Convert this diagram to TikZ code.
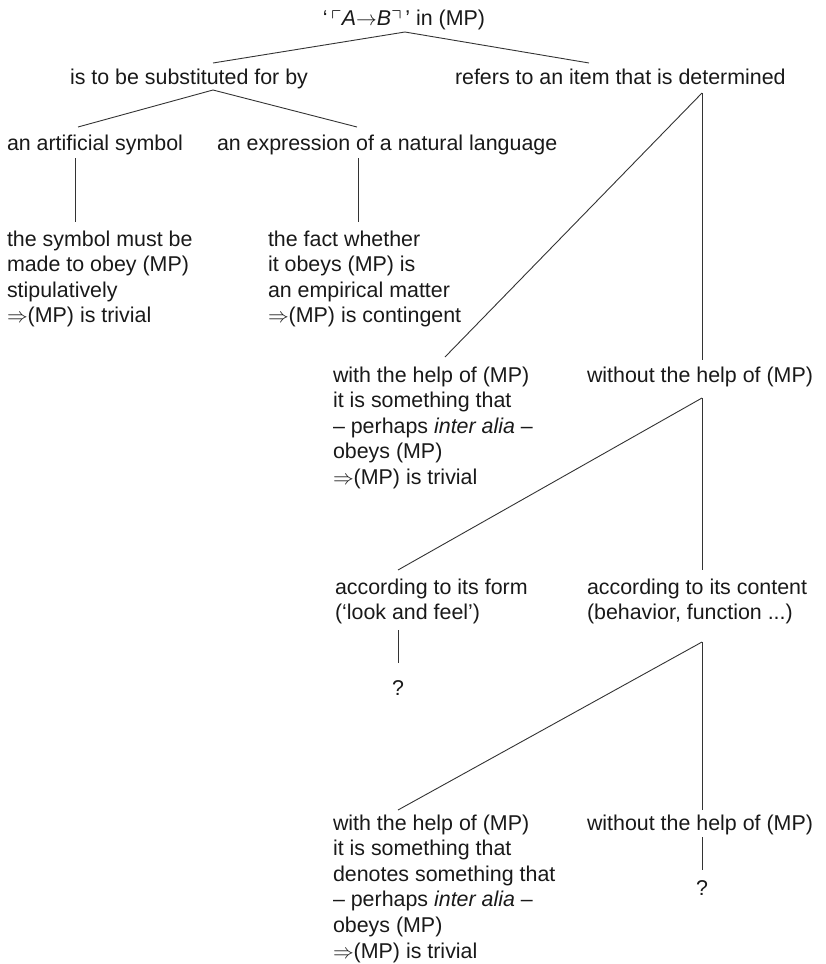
\documentclass[tikz,border=0pt]{standalone}
\usepackage{amsmath, amssymb}
\usepackage{fontspec}
\setmainfont{Liberation Sans}
\usepackage{tikz}
\usetikzlibrary{positioning,calc}
\tikzset{
  branch/.style={draw=black!80, line width=0.9pt},
  entry/.style={inner sep=0pt, outer sep=0pt, align=left, anchor=base west, text=black!90, font=\fontsize{21.4}{25.6}\selectfont},
  qmark/.style={entry, anchor=base}
}

\begin{document}
\begin{tikzpicture}[x=1pt, y=-1pt]
      \useasboundingbox (0,0) rectangle (825,964);
      \node[qmark] (root) at (404,25) {‘\,$\ulcorner$\textit{A}$\rightarrow$\textit{B}$\urcorner$\,’ in (MP)};
      \node[entry] (subst) at (70,84) {is to be substituted for by};
      \node[entry] (refers) at (455,84) {refers to an item that is determined};
      \node[entry] (artif) at (7,150) {an artificial symbol};
      \node[entry] (natlang) at (217,150) {an expression of a natural language};
      \node[entry] (stip) at (7,322.8) {the symbol must be\\made to obey (MP)\\stipulatively\\$\Rightarrow$(MP) is trivial};
      \node[entry] (empir) at (268,322.8) {the fact whether\\it obeys (MP) is\\an empirical matter\\$\Rightarrow$(MP) is contingent};
      \node[entry] (help1) at (333,484.4) {with the help of (MP)\\it is something that\\-- perhaps \textit{inter alia} --\\obeys (MP)\\$\Rightarrow$(MP) is trivial};
      \node[entry] (without1) at (587,382) {without the help of (MP)};
      \node[entry] (form) at (335,619.6) {according to its form\\(‘look and feel’)};
      \node[entry] (content) at (587,619.6) {according to its content\\(behavior, function ...)};
      \node[qmark] (q1) at (398,695) {?};
      \node[entry] (help2) at (333,958) {with the help of (MP)\\it is something that\\denotes something that\\-- perhaps \textit{inter alia} --\\obeys (MP)\\$\Rightarrow$(MP) is trivial};
      \node[entry] (without2) at (587,830) {without the help of (MP)};
      \node[qmark] (q2) at (702,895) {?};
      \draw[branch] ([shift={(1,7)}]root.base) -- ([shift={(143,-21)}]subst.base west);
      \draw[branch] ([shift={(1,7)}]root.base) -- ([shift={(134,-21)}]refers.base west);
      \draw[branch] ([shift={(143,6)}]subst.base west) -- ([shift={(71,-23)}]artif.base west);
      \draw[branch] ([shift={(143,6)}]subst.base west) -- ([shift={(140,-23)}]natlang.base west);
      \draw[branch] ([shift={(68,8)}]artif.base west) -- ([shift={(68,-100.8)}]stip.base west);
      \draw[branch] ([shift={(141,8)}]natlang.base west) -- ([shift={(90,-100.8)}]empir.base west);
      \draw[branch] ([shift={(247,9)}]refers.base west) -- ([shift={(112,-127.4)}]help1.base west);
      \draw[branch] ([shift={(247,9)}]refers.base west) -- ([shift={(115,-22)}]without1.base west);
      \draw[branch] ([shift={(115,16)}]without1.base west) -- ([shift={(63,-49.6)}]form.base west);
      \draw[branch] ([shift={(115,16)}]without1.base west) -- ([shift={(115,-49.6)}]content.base west);
      \draw[branch] ([shift={(63,10.4)}]form.base west) -- ([shift={(0,-32)}]q1.base);
      \draw[branch] ([shift={(115,22.4)}]content.base west) -- ([shift={(65,-148)}]help2.base west);
      \draw[branch] ([shift={(115,22.4)}]content.base west) -- ([shift={(115,-20)}]without2.base west);
      \draw[branch] ([shift={(115,7)}]without2.base west) -- ([shift={(0,-25)}]q2.base);
    \end{tikzpicture}
\end{document}
